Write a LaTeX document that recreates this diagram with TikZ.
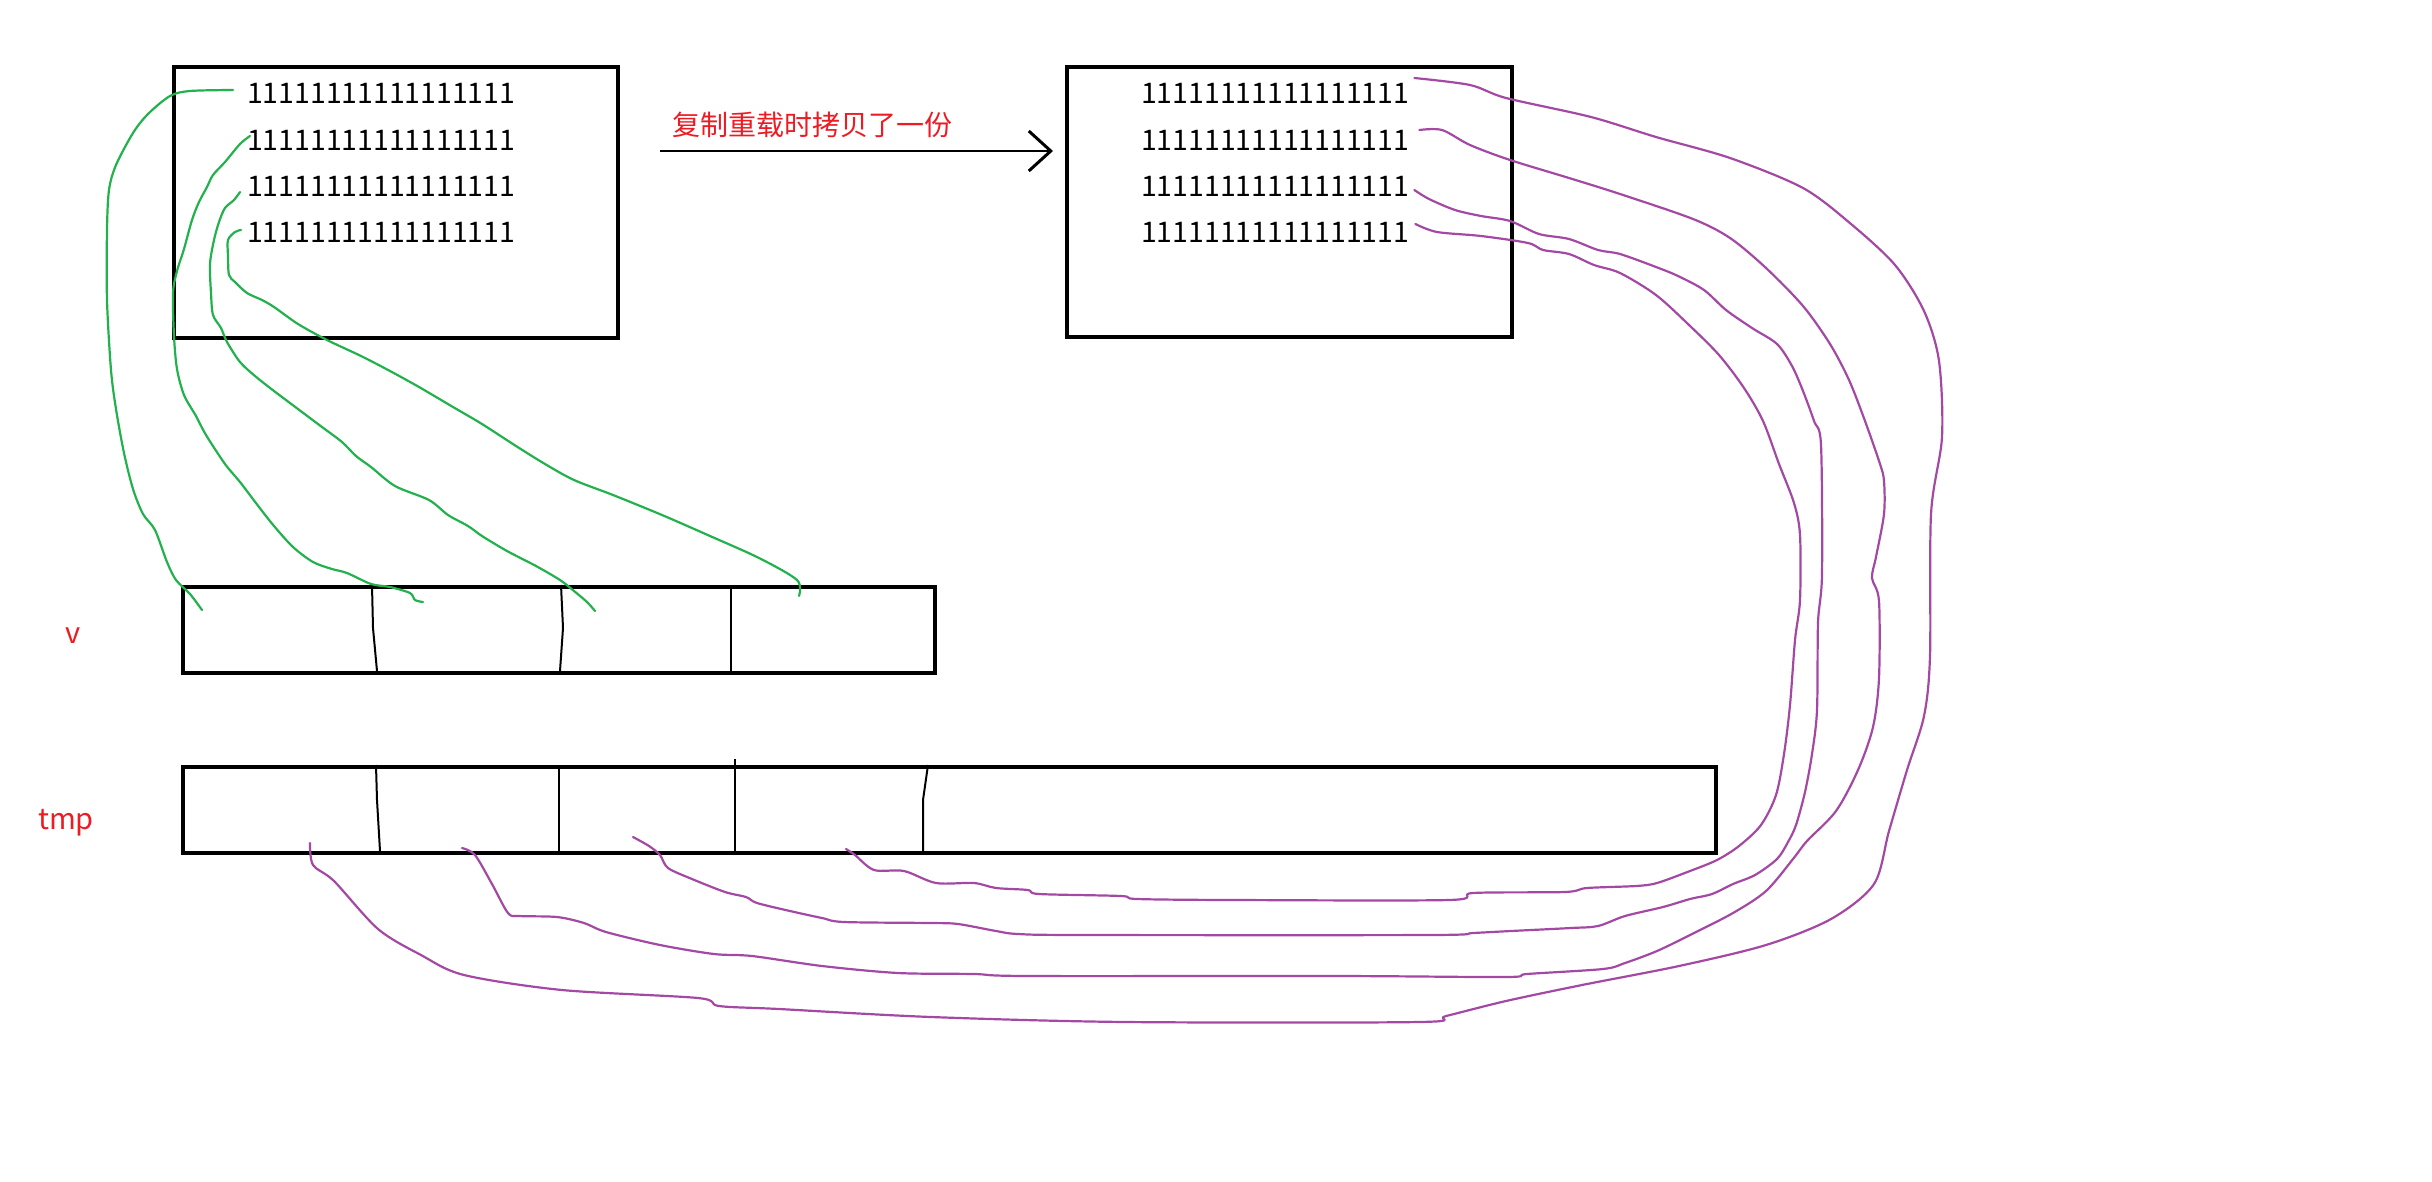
\documentclass[tikz,border=0pt]{standalone}
\usepackage{fontspec}
\newfontfamily\cjk{Noto Sans CJK SC}
\usetikzlibrary{arrows.meta, calc}
\definecolor{pGreen}{HTML}{22B14C}
\definecolor{pPurple}{HTML}{A349A4}
\definecolor{pRed}{HTML}{ED1C24}

\begin{document}
\begin{tikzpicture}[x=1pt, y=-1pt, every node/.style={font=\cjk\fontsize{28}{32}\selectfont, inner sep=0pt},
  box/.style={draw, line width=4pt, anchor=north west},
  bar/.style={line width=2pt},
  row/.style={anchor=west, font=\cjk\fontsize{28.4}{32}\selectfont},
  tag/.style={pRed, anchor=base, font=\cjk\fontsize{29}{32}\selectfont},
  link/.style={pGreen, line width=2.2pt, line cap=round, line join=round},
  backlink/.style={pPurple, line width=2.2pt, line cap=round, line join=round}]
  \useasboundingbox (0,0) rectangle (2432,1181);
  % source and copy
  \node[box, minimum width=444, minimum height=271] (src) at (172,65) {};
  \node[box, minimum width=445, minimum height=270] (dst) at (1065,65) {};
  \foreach \i/\y in {1/93, 2/140, 3/186, 4/232} {
    \node[row] (s\i) at (247,\y) {11111111111111111};
    \node[row] (d\i) at (1141,\y) {11111111111111111};
  }
  % copy arrow
  \draw[line width=2pt, -{Straight Barb[length=22pt, width=40pt, line width=3pt]}]
    ($(src.north east)+(40,86)$) -- ($(dst.north west)+(-12,86)$);
  \node[pRed, anchor=west] (note) at (672,125) {复制重载时拷贝了一份};
  % arrays
  \node[tag] (vlabel) at (73,643) {v};
  \node[tag] (tmplabel) at (66,829) {tmp};
  \node[box, minimum width=752, minimum height=86] (v) at (181,585) {};
  \node[box, minimum width=1533, minimum height=86] (tmp) at (181,765) {};
  \foreach \xa/\xb/\xc in {372/373/377, 561/563/560, 731/731/731}
    \draw[bar] (\xa,585) -- (\xb,628) -- (\xc,671);
  \foreach \xa/\xb/\xc/\ya in {376/377/380/765, 559/559/559/765, 735/735/735/759, 928/923/923/765}
    \draw[bar] (\xa,\ya) -- (\xb,800) -- (\xc,851);
  % green links: source rows to v
  \coordinate (g1) at ($(s1.west)+(-14,-3)$);
  \coordinate (g2) at ($(s2.west)+(3,-4)$);
  \coordinate (g3) at ($(s3.west)+(-7,6)$);
  \coordinate (g4) at ($(s4.west)+(-6,-2)$);
  \coordinate (v1) at ($(v.north west)+(21,25)$);
  \coordinate (v2) at ($(v.north west)+(242,17)$);
  \coordinate (v3) at ($(v.north west)+(414,26)$);
  \coordinate (v4) at ($(v.north west)+(618,11)$);
  \draw[link] plot[smooth, tension=0.5] coordinates {(g1) (190,91) (170,96) (148,114) (133,133)
    (116,165) (109,190) (107,230) (107,300) (111,370) (116,409) (124,453) (133,489) (143,514)
    (155,530) (167,562) (176,580) (190,594) (v1)};
  \draw[link] plot[smooth, tension=0.5] coordinates {(g2) (240,144) (225,162) (213,175) (207,187)
    (199,202) (192,220) (184,249) (177,271) (173,293) (174,336) (177,369) (184,395) (196,416)
    (206,435) (225,464) (240,482) (259,507) (274,526) (293,547) (313,562) (332,569) (347,573)
    (371,584) (390,587) (410,593) (415,600) (v2)};
  \draw[link] plot[smooth, tension=0.5] coordinates {(g3) (234,200) (225,208) (219,222) (214,240)
    (210,264) (211,293) (213,315) (221,328) (227,342) (240,362) (255,376) (274,391)
    (298,409) (322,427) (342,442) (356,456) (371,467) (395,486) (429,500) (448,515) (468,526)
    (482,536) (507,551) (536,566) (560,580) (574,591) (587,602) (v3)};
  \draw[link] plot[smooth, tension=0.5] coordinates {(g4) (235,232) (228,240) (228,256) (229,275)
    (235,282) (247,293) (262,300) (274,307) (298,324) (327,340) (361,356) (390,371) (419,387)
    (453,407) (482,424) (516,446) (545,464) (574,480) (613,495) (662,515) (710,536) (759,558)
    (797,580) (v4)};
  % purple links: copy rows to tmp
  \coordinate (p1) at ($(d1.east)+(5,-15)$);
  \coordinate (p2) at ($(d2.east)+(10,-10)$);
  \coordinate (p3) at ($(d3.east)+(5,4)$);
  \coordinate (p4) at ($(d4.east)+(6,-8)$);
  \coordinate (t1) at ($(tmp.south west)+(129,-12)$);
  \coordinate (t2) at ($(tmp.south west)+(281,-7)$);
  \coordinate (t3) at ($(tmp.south west)+(452,-18)$);
  \coordinate (t4) at ($(tmp.south west)+(665,-6)$);
  \draw[backlink] plot[smooth, tension=0.5] coordinates {(p1) (1470,85) (1506,98) (1591,117)
    (1656,137) (1730,158) (1803,188) (1851,224) (1895,265) (1924,311) (1939,361) (1942,437)
    (1931,514) (1930,656) (1924,716) (1907,770) (1889,831) (1874,884) (1831,919) (1766,945)
    (1679,966) (1582,985) (1506,1001) (1446,1016) (1419,1022) (1126,1022) (931,1017) (779,1009)
    (719,1006) (698,998) (562,990) (464,975) (421,955) (378,929) (334,881) (313,865) (t1)};
  \draw[backlink] plot[smooth, tension=0.5] coordinates {(p2) (1442,130) (1470,145) (1510,160)
    (1569,178) (1620,194) (1693,219) (1730,238) (1766,268) (1803,306) (1830,344) (1849,380)
    (1865,421) (1880,464) (1884,481) (1884,514) (1876,557) (1872,578) (1879,601) (1879,678)
    (1873,727) (1858,770) (1836,811) (1807,841) (1793,859) (1766,891) (1733,913) (1690,935)
    (1657,951) (1625,963) (1603,969) (1527,974) (1506,977) (1338,976) (1028,976) (974,974)
    (898,973) (822,966) (752,956) (714,954) (660,945) (606,932) (584,923) (557,917) (519,916)
    (508,913) (492,884) (475,855) (t2)};
  \draw[backlink] plot[smooth, tension=0.5] coordinates {(p3) (1429,199) (1455,210) (1481,216)
    (1510,221) (1539,234) (1569,239) (1598,250) (1620,254) (1656,267) (1678,276) (1704,290)
    (1726,310) (1752,328) (1777,344) (1792,366) (1803,391) (1814,421) (1821,445) (1822,574)
    (1818,623) (1817,710) (1812,754) (1805,792) (1796,825) (1788,842) (1777,859) (1755,875)
    (1733,884) (1712,894) (1690,899) (1663,907) (1625,916) (1598,926) (1571,928) (1511,931)
    (1473,933) (1430,935) (1083,935) (1018,934) (996,931) (958,924) (931,923) (844,922)
    (822,918) (790,911) (757,903) (746,897) (725,892) (692,879) (668,868) (660,855) (649,846) (t3)};
  \draw[backlink] plot[smooth, tension=0.5] coordinates {(p4) (1437,232) (1481,236) (1528,243)
    (1543,250) (1569,254) (1594,265) (1620,273) (1656,295) (1689,325) (1719,355) (1744,388)
    (1763,421) (1779,464) (1794,503) (1800,535) (1800,600) (1795,640) (1790,705)
    (1784,754) (1776,795) (1761,825) (1739,846) (1717,860) (1690,871) (1657,883) (1636,886)
    (1587,888) (1565,892) (1473,893) (1449,900) (1234,900) (1137,899) (1121,896) (1039,894)
    (1028,890) (996,888) (974,883) (936,883) (904,871) (874,870) (855,855) (t4)};
\end{tikzpicture}
\end{document}
